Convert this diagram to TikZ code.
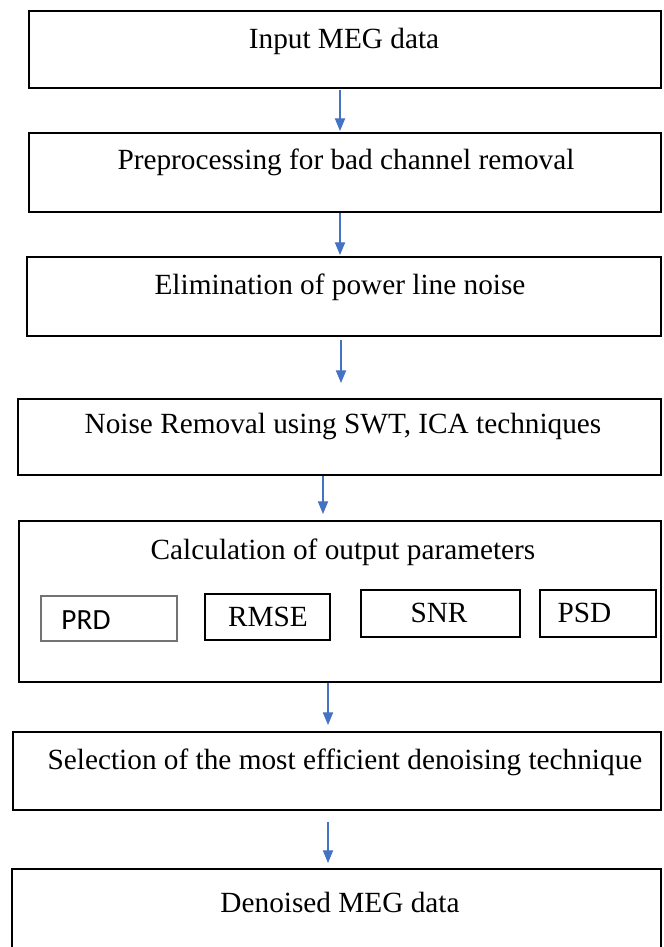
\documentclass[tikz,border=0pt]{standalone}
\usepackage{fontspec}
\setmainfont{Liberation Serif}
\newfontfamily\calibri{Carlito}
\usetikzlibrary{arrows.meta, fit}
\definecolor{flowblue}{HTML}{4472C4}

\begin{document}
\begin{tikzpicture}[x=0.0144cm, y=-0.0144cm,
  stage/.style={draw, line width=1.05pt, inner sep=0pt},
  metric/.style={draw, line width=0.5pt, inner sep=0pt},
  caption/.style={font=\fontsize{12}{14}\selectfont, inner sep=0pt},
  flow/.style={draw=flowblue, line width=0.45pt, -{Triangle[width=4.2pt, length=5.2pt]}}]
\useasboundingbox (0,0) rectangle (663,947);

% stage boxes
\node[stage, fit={(29,11) (661,88)}] (input) {};
\node[stage, fit={(29,133) (661,212)}] (prep) {};
\node[stage, fit={(27,257) (661,336)}] (power) {};
\node[stage, fit={(18,399) (661,475)}] (noise) {};
\node[stage, fit={(19,521) (661,682)}] (calc) {};
\node[stage, fit={(13,732) (661,810)}] (select) {};
\node[stage, fit={(12,869) (661,975)}] (output) {};

% texts
\node[caption] (tinput) at (344,41) {Input MEG data};
\node[caption] (tprep) at (346,162) {Preprocessing for bad channel removal};
\node[caption] (tpower) at (340,287) {Elimination of power line noise};
\node[caption] (tnoise) at (343,427) {Noise Removal using SWT, ICA techniques};
\node[caption] (tcalc) at (343,552) {Calculation of output parameters};
\node[caption] (tselect) at (345,762) {Selection of the most efficient denoising technique};
\node[caption] (toutput) at (340,902) {Denoised MEG data};

% parameter boxes
\node[metric, draw=black!55, fit={(41,596) (177,641)}] (prd) {};
\node[metric, fit={(205,594) (330,640)}] (rmse) {};
\node[metric, fit={(361,590) (520,637)}] (snr) {};
\node[metric, fit={(540,590) (656,637)}] (psd) {};
\node[caption, font=\calibri\fontsize{12}{14}\selectfont, anchor=west] (tprd) at (61,620) {PRD};
\node[caption] (trmse) at (268,617) {RMSE};
\node[caption] (tsnr) at (439,613) {SNR};
\node[caption, anchor=west] (tpsd) at (557,613) {PSD};

% arrows
\coordinate (a1) at (340,90);  \coordinate (b1) at (340,131);
\coordinate (a2) at (340,213); \coordinate (b2) at (340,255);
\coordinate (a3) at (341,340); \coordinate (b3) at (341,383);
\coordinate (a4) at (323,476); \coordinate (b4) at (323,514);
\coordinate (a5) at (328,683); \coordinate (b5) at (328,725);
\coordinate (a6) at (328,822); \coordinate (b6) at (328,863);
\draw[flow] (a1) -- (b1);
\draw[flow] (a2) -- (b2);
\draw[flow] (a3) -- (b3);
\draw[flow] (a4) -- (b4);
\draw[flow] (a5) -- (b5);
\draw[flow] (a6) -- (b6);
\end{tikzpicture}
\end{document}
